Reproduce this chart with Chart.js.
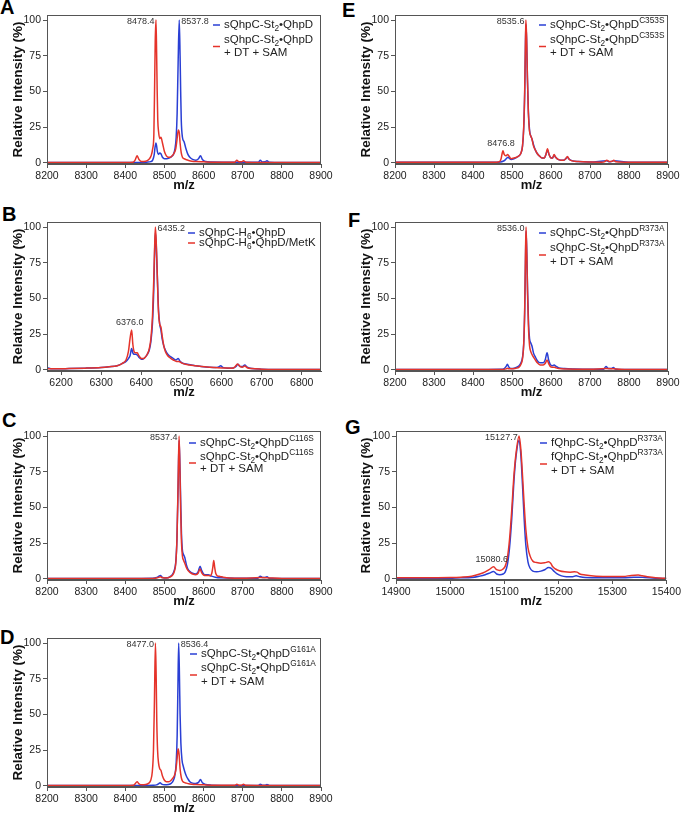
<!DOCTYPE html>
<html lang="en">
<head>
<meta charset="UTF-8">
<title>QhpC-QhpD mass spectra</title>
<style>
  body { margin: 0; background: #fff; font-family: "Liberation Sans", Arial, sans-serif; }
  #fig { position: relative; width: 683px; height: 814px; overflow: hidden; }
  #fig canvas { position: absolute; }
  .tag { position: absolute; font-weight: bold; font-size: 20px; line-height: 20px; color: #000; }
</style>
</head>
<body>
<div id="fig">
  <div class="tag" style="left:0px;top:-3px">A</div>
  <div class="tag" style="left:342px;top:0px">E</div>
  <div class="tag" style="left:2px;top:204px">B</div>
  <div class="tag" style="left:348px;top:210px">F</div>
  <div class="tag" style="left:2px;top:410px">C</div>
  <div class="tag" style="left:345px;top:417px">G</div>
  <div class="tag" style="left:0px;top:627px">D</div>
</div>

<script src="https://cdn.jsdelivr.net/npm/chart.js"></script>
<script>
// spectra: [m/z, relative intensity %]
const blueA = [[8200,0.3],[8400,0.3],[8440,0.4],[8455,0.6],[8465,1],[8470,2],[8474,6],[8476,11],[8478.4,14],[8480,12],[8482,8],[8485,6],[8488,7],[8491,6.5],[8495,4],[8500,3],[8506,3],[8512,3.5],[8518,4.5],[8523,6],[8527,10],[8530,18],[8532.5,35],[8535,70],[8537.8,100],[8540,75],[8541.5,50],[8543,30],[8546,18],[8550,15],[8555,10],[8560,6],[8565,4],[8572,2.5],[8580,2],[8587,3],[8592,5],[8597,2.5],[8605,1],[8620,0.7],[8680,0.5],[8740,0.5],[8745,2],[8750,0.7],[8757,0.8],[8762,1.5],[8768,0.5],[8800,0.3],[8900,0.3]];
const redA = [[8200,0.3],[8300,0.3],[8400,0.4],[8420,0.6],[8425,2],[8430,5],[8435,2.5],[8442,1],[8452,1.2],[8460,2.5],[8466,5],[8470,10],[8473,20],[8475,55],[8476.5,85],[8478.4,100],[8480,78],[8481.5,50],[8483,30],[8485,22],[8488,17],[8491,18],[8495,14],[8500,8],[8505,5],[8510,4],[8515,4],[8520,5],[8525,7],[8529,10],[8532,16],[8535.5,23],[8538,21],[8540,14],[8543,7],[8546,4],[8550,3],[8556,2.3],[8562,1.8],[8570,1.3],[8580,1],[8600,0.8],[8620,0.6],[8660,0.5],[8680,0.6],[8685,2],[8690,0.8],[8697,0.8],[8702,1.5],[8708,0.6],[8750,0.4],[8800,0.3],[8900,0.3]];

const blueB = [[6165,2],[6170,1.2],[6180,0.8],[6220,1],[6260,1.3],[6300,1.8],[6320,2.3],[6340,3],[6352,4.5],[6362,6],[6368,8],[6372,10],[6376,15],[6379,12],[6382,11],[6386,11],[6390,10.5],[6394,9],[6398,8],[6402,7.5],[6406,8],[6410,9],[6415,11],[6420,14],[6424,20],[6428,33],[6431,55],[6433.5,85],[6435.2,96],[6437.5,86],[6440,66],[6443,42],[6446,32],[6449,28],[6452,22],[6456,17],[6460,14],[6466,11],[6472,9.5],[6480,8],[6486,7],[6492,8],[6497,6],[6505,4.5],[6515,4],[6525,3.5],[6535,3],[6550,2.5],[6570,2],[6585,1.8],[6593,2.2],[6598,3],[6603,1.8],[6615,1.3],[6630,1.4],[6636,2.5],[6641,4],[6646,2.5],[6652,2.4],[6658,3.5],[6664,2],[6675,1],[6700,0.6],[6750,0.4],[6850,0.3]];
const redB = [[6165,0.8],[6180,0.8],[6220,1],[6260,1.3],[6300,1.8],[6320,2.3],[6340,3],[6352,4.5],[6362,7],[6368,13],[6372,22],[6376,28],[6379,18],[6382,13],[6386,12],[6390,12],[6394,10],[6398,8.5],[6402,8],[6406,8],[6410,9],[6415,11],[6420,15],[6424,22],[6428,38],[6431,62],[6433.5,88],[6435.2,100],[6437.5,88],[6440,65],[6443,40],[6446,32],[6449,30],[6452,24],[6456,17],[6460,13],[6466,10],[6472,8.5],[6480,7],[6488,6],[6494,6],[6500,5],[6510,4],[6520,3.5],[6535,3],[6550,2.5],[6570,2],[6590,1.6],[6610,1.4],[6625,1.2],[6633,2],[6640,4.2],[6646,2.5],[6652,2],[6658,2.8],[6664,1.6],[6675,1],[6700,0.6],[6750,0.4],[6850,0.3]];

const blueC = [[8200,0.3],[8400,0.3],[8470,0.5],[8480,1],[8486,2],[8490,2.5],[8494,1.3],[8500,0.7],[8508,0.8],[8515,1.8],[8520,3],[8525,6],[8529,12],[8532,28],[8535,65],[8537.4,97],[8539.5,80],[8541.5,55],[8543.5,32],[8546,20],[8549,17],[8552,15],[8556,10],[8560,7],[8566,5],[8572,4],[8580,3.5],[8586,5],[8591,9],[8595,6],[8600,3.5],[8606,3],[8612,3],[8620,2],[8630,1.3],[8645,0.8],[8680,0.5],[8738,0.6],[8745,2],[8751,1],[8756,1],[8762,1.6],[8768,0.5],[8800,0.3],[8900,0.3]];
const redC = [[8200,0.3],[8400,0.3],[8470,0.4],[8482,0.8],[8490,1.5],[8495,0.8],[8505,0.7],[8515,1.5],[8520,2.5],[8525,5],[8529,11],[8532,28],[8535,68],[8537.4,100],[8539.5,78],[8541.5,48],[8543.5,26],[8546,16],[8549,13],[8552,11],[8556,8],[8560,6],[8566,4.5],[8572,3.5],[8580,3],[8586,4],[8591,7],[8595,4.5],[8600,2.8],[8606,2.5],[8612,2.5],[8617,2.2],[8621,4],[8624,9],[8626,13],[8628.5,8],[8631,4],[8635,2.2],[8642,1.8],[8650,1.3],[8665,0.7],[8700,0.5],[8745,1],[8762,0.9],[8800,0.3],[8900,0.3]];

const blueD = [[8200,0.3],[8440,0.3],[8470,0.5],[8480,0.8],[8485,1.5],[8489,2.3],[8493,1.3],[8500,0.8],[8510,1],[8518,2],[8523,4],[8527,8],[8530,16],[8532.5,35],[8534.5,70],[8536.4,100],[8538.5,75],[8540,50],[8542,30],[8545,18],[8548,14],[8552,10],[8556,7],[8560,5],[8565,3],[8572,2],[8580,1.8],[8587,2.5],[8592,4.5],[8597,2.2],[8605,1],[8620,0.6],[8680,0.4],[8740,0.4],[8745,1.3],[8750,0.6],[8757,0.6],[8762,1.1],[8768,0.4],[8800,0.3],[8900,0.3]];
const redD = [[8200,0.3],[8400,0.3],[8420,0.5],[8425,1.5],[8430,3],[8435,1.5],[8442,0.8],[8452,1],[8460,2],[8465,4],[8469,10],[8472,25],[8474.5,60],[8477,100],[8479,75],[8480.5,45],[8482.5,25],[8485,16],[8488,12],[8491,11],[8495,7],[8500,4],[8505,3],[8510,3],[8515,3.5],[8520,5],[8525,7],[8529,11],[8532,18],[8535,26],[8537.5,22],[8540,12],[8543,6],[8546,3.5],[8550,2.5],[8556,2],[8562,1.5],[8570,1.2],[8580,1],[8600,0.8],[8620,0.6],[8660,0.5],[8680,0.5],[8685,1.3],[8690,0.6],[8697,0.6],[8702,1.2],[8708,0.5],[8750,0.4],[8900,0.3]];

const blueE = [[8200,0.5],[8400,0.5],[8460,0.5],[8470,0.7],[8477,1.2],[8482,2],[8487,3.5],[8490,4],[8494,3],[8498,2.5],[8505,3],[8512,4],[8518,5],[8523,7],[8527,12],[8530,24],[8532.5,48],[8534.5,83],[8535.6,97],[8537.5,86],[8539.5,60],[8542,36],[8545,23],[8548,19],[8551,17],[8555,13],[8560,9],[8565,6.5],[8570,5],[8577,3.5],[8583,3.5],[8587,6],[8591,9],[8595,6],[8600,3.5],[8604,3.5],[8608,5.5],[8612,4],[8618,2.5],[8625,2],[8632,2],[8638,3],[8642,4],[8647,2.5],[8655,1.5],[8670,1],[8700,0.7],[8743,1.5],[8750,0.8],[8761,1.5],[8800,0.5],[8900,0.5]];
const redE = [[8200,0.5],[8400,0.5],[8460,0.6],[8468,1],[8472,3],[8475,7],[8476.8,8.5],[8480,6],[8484,5],[8489,6],[8493,4.5],[8498,3],[8505,3.5],[8512,4],[8518,5],[8523,7],[8527,12],[8530,25],[8532.5,50],[8534.5,85],[8535.6,100],[8537.5,88],[8539.5,60],[8542,35],[8545,22],[8548,19],[8551,17],[8555,12],[8560,9],[8565,6.5],[8570,5],[8577,3.5],[8583,3.5],[8587,6],[8591,10],[8595,6],[8600,3.5],[8604,3.5],[8608,6],[8612,4],[8618,2.5],[8625,2],[8632,2],[8638,3],[8642,4.5],[8647,2.5],[8655,1.5],[8670,1],[8700,0.7],[8730,0.6],[8738,1],[8743,2],[8750,1],[8757,1.2],[8761,2],[8766,0.8],[8800,0.5],[8900,0.5]];

const blueF = [[8200,0.3],[8400,0.3],[8470,0.5],[8480,1],[8485,2.5],[8488,4],[8492,2],[8497,1],[8505,1.2],[8512,2],[8518,3],[8523,5],[8527,9],[8530,18],[8532.5,40],[8534.5,75],[8536,97],[8538,82],[8540,55],[8542.5,32],[8545,22],[8548,19],[8551,17],[8555,12],[8560,9],[8565,6.5],[8572,5],[8580,5],[8585,7],[8590,12],[8594,7],[8598,4],[8603,3],[8608,3.5],[8613,2.5],[8620,1.5],[8635,1],[8660,0.7],[8700,0.5],[8735,0.6],[8741,2.5],[8747,1],[8754,1],[8760,1.7],[8766,0.5],[8800,0.3],[8900,0.3]];
const redF = [[8200,0.3],[8400,0.3],[8470,0.4],[8485,0.8],[8488,1.2],[8492,0.8],[8500,0.8],[8510,1.2],[8518,2],[8523,4],[8527,8],[8530,18],[8532.5,42],[8534.5,80],[8536,100],[8538,80],[8540,52],[8542.5,28],[8545,17],[8548,13],[8551,11],[8555,9],[8560,7],[8565,5],[8572,3.5],[8580,3.5],[8585,4.5],[8590,7],[8594,4.5],[8598,2.5],[8603,2],[8608,2],[8613,1.5],[8620,1],[8640,0.7],[8700,0.5],[8741,1],[8760,0.8],[8800,0.3],[8900,0.3]];

const blueG = [[14900,0.3],[14950,0.3],[15000,0.5],[15020,0.8],[15040,1],[15055,2],[15065,3],[15072,4],[15080.6,5.2],[15086,3.5],[15092,3],[15098,3.5],[15102,5],[15106,10],[15110,22],[15114,42],[15118,68],[15122,86],[15127.7,97],[15131,86],[15134,65],[15137,42],[15140,24],[15144,12],[15148,7.5],[15153,5.5],[15160,5],[15168,5.5],[15175,6.5],[15182,8],[15187,7.5],[15192,5.5],[15198,3.5],[15206,2.2],[15215,1.6],[15225,1.5],[15233,2.2],[15240,1.5],[15250,1],[15280,0.8],[15320,0.8],[15340,1.2],[15350,1.3],[15360,1],[15380,0.6],[15400,0.3]];
const redG = [[14900,0.8],[14950,0.8],[15000,1],[15020,1.3],[15040,2],[15055,3.5],[15065,5],[15072,6.5],[15080.6,8.5],[15086,6.5],[15092,6],[15098,7],[15102,9],[15106,15],[15110,28],[15114,48],[15118,72],[15122,88],[15127.7,100],[15131,90],[15134,72],[15137,52],[15140,35],[15144,22],[15148,16],[15153,12.5],[15160,11.5],[15168,11],[15175,11.3],[15182,12],[15186,11],[15190,8.5],[15195,7],[15202,5.8],[15212,5],[15222,4.8],[15230,5],[15235,4.8],[15240,3.5],[15250,2.8],[15270,2],[15300,1.8],[15320,1.8],[15335,2.5],[15348,2.8],[15355,2.2],[15365,1.5],[15380,0.8],[15400,0.5]];

// labelled peaks (m/z)
const peaksA = [8478.4, 8537.8];
const peaksB = [6435.2, 6376.0];
const peaksC = [8537.4];
const peaksD = [8477.0, 8536.4];
const peaksE = [8535.6, 8476.8];
const peaksF = [8536.0];
const peaksG = [15127.7, 15080.6];

// legend names: _x = subscript, ^{..} = superscript, | = new line
const namesA = ['sQhpC-St_2•QhpD', 'sQhpC-St_2•QhpD|+ DT + SAM'];
const namesB = ['sQhpC-H_6•QhpD', 'sQhpC-H_6•QhpD/MetK'];
const namesC = ['sQhpC-St_2•QhpD^{C116S}', 'sQhpC-St_2•QhpD^{C116S}|+ DT + SAM'];
const namesD = ['sQhpC-St_2•QhpD^{G161A}', 'sQhpC-St_2•QhpD^{G161A}|+ DT + SAM'];
const namesE = ['sQhpC-St_2•QhpD^{C353S}', 'sQhpC-St_2•QhpD^{C353S}|+ DT + SAM'];
const namesF = ['sQhpC-St_2•QhpD^{R373A}', 'sQhpC-St_2•QhpD^{R373A}|+ DT + SAM'];
const namesG = ['fQhpC-St_2•QhpD^{R373A}', 'fQhpC-St_2•QhpD^{R373A}|+ DT + SAM'];

const BLUE = '#2a3fd4';
const RED = '#e5332a';
const FONT = '"Liberation Sans", Arial, sans-serif';

// layout of the panels (page px). place: L = label left of peak, R = right, T = on top
const panels = [
  {left:0,   top:0,   w:340, h:200, chartTop:15,  chartBottom:164, yw:47, padRight:19, yPad:10, min:8200,  max:8900,  blue:blueA, red:redA, peaks:peaksA, place:['L','R'], names:namesA, lx:166, ly:[10,25,38]},
  {left:0,   top:200, w:340, h:205, chartTop:222, chartBottom:371, yw:47, padRight:19, yPad:10, min:6165,  max:6848,  blue:blueB, red:redB, peaks:peaksB, place:['R','T'], names:namesB, lx:141, ly:[11,21]},
  {left:0,   top:405, w:340, h:207, chartTop:431, chartBottom:580, yw:47, padRight:19, yPad:10, min:8200,  max:8900,  blue:blueC, red:redC, peaks:peaksC, place:['L'],     names:namesC, lx:142, ly:[12,26,38]},
  {left:0,   top:612, w:340, h:202, chartTop:638, chartBottom:787, yw:47, padRight:19, yPad:10, min:8200,  max:8900,  blue:blueD, red:redD, peaks:peaksD, place:['L','R'], names:namesD, lx:143, ly:[16,30,44]},
  {left:340, top:0,   w:343, h:200, chartTop:15,  chartBottom:164, yw:55, padRight:15, yPad:18, min:8200,  max:8900,  blue:blueE, red:redE, peaks:peaksE, place:['L','T'], names:namesE, lx:144, ly:[10,25,38]},
  {left:340, top:200, w:343, h:205, chartTop:222, chartBottom:371, yw:55, padRight:15, yPad:18, min:8200,  max:8900,  blue:blueF, red:redF, peaks:peaksF, place:['L'],     names:namesF, lx:144, ly:[11,26,40]},
  {left:340, top:405, w:343, h:207, chartTop:431, chartBottom:580, yw:56, padRight:15, yPad:18, min:14900, max:15400, blue:blueG, red:redG, peaks:peaksG, place:['L','T'], names:namesG, lx:144, ly:[12,26,40]}
];

function drawRich(ctx, text, x, y, size) {
  const parts = text.split(/(_\w|\^\{[^}]*\})/).filter(s => s);
  for (const part of parts) {
    let s = part, fs = size, dy = 0;
    if (part[0] === '_') { s = part.slice(1); fs = size * 0.72; dy = size * 0.32; }
    else if (part[0] === '^') { s = part.slice(2, -1); fs = size * 0.72; dy = -size * 0.4; }
    ctx.font = fs + 'px ' + FONT;
    ctx.fillText(s, x, y + dy);
    x += ctx.measureText(s).width;
  }
}

function peakHeight(p, mz) {
  let h = 0;
  for (const [x, y] of p.blue.concat(p.red)) if (Math.abs(x - mz) < 0.01) h = Math.max(h, y);
  return h;
}

function makePanel(p) {
  const canvas = document.createElement('canvas');
  canvas.width = p.w;
  canvas.height = p.h;
  canvas.style.left = p.left + 'px';
  canvas.style.top = p.top + 'px';
  document.getElementById('fig').appendChild(canvas);

  const xTitleH = 13 * 1.2;
  const deco = {
    id: 'deco',
    afterDraw(chart) {
      const ctx = chart.ctx, ca = chart.chartArea;
      const xs = chart.scales.x, ys = chart.scales.y;
      ctx.save();
      // frame
      ctx.strokeStyle = '#555';
      ctx.lineWidth = 1;
      ctx.strokeRect(Math.round(ca.left) + 0.5, Math.round(ca.top) + 0.5,
                     Math.round(ca.right - ca.left) - 1, Math.round(ca.bottom - ca.top) - 1);

      // peak labels
      ctx.fillStyle = '#333';
      ctx.font = '9px ' + FONT;
      p.peaks.forEach((mz, i) => {
        const px = xs.getPixelForValue(mz);
        const py = ys.getPixelForValue(peakHeight(p, mz));
        const txt = mz.toFixed(1);
        if (p.place[i] === 'L') { ctx.textAlign = 'right'; ctx.textBaseline = 'middle'; ctx.fillText(txt, px - 1.5, py + 2); }
        else if (p.place[i] === 'R') { ctx.textAlign = 'left'; ctx.textBaseline = 'middle'; ctx.fillText(txt, px + 2, py + 2); }
        else { ctx.textAlign = 'center'; ctx.textBaseline = 'bottom'; ctx.fillText(txt, px - 2, py - 3); }
      });

      // legend
      ctx.textAlign = 'left';
      ctx.textBaseline = 'middle';
      const lx = ca.left + p.lx;
      let row = 0;
      [[p.names[0], BLUE], [p.names[1], RED]].forEach(([name, color]) => {
        const lines = name.split('|');
        const yLines = lines.map((_, k) => ca.top + p.ly[row + k]);
        const segY = (yLines[0] + yLines[yLines.length - 1]) / 2;
        ctx.strokeStyle = color;
        ctx.lineWidth = 1.5;
        ctx.beginPath();
        ctx.moveTo(lx, segY);
        ctx.lineTo(lx + 7, segY);
        ctx.stroke();
        ctx.fillStyle = '#222';
        lines.forEach((ln, k) => drawRich(ctx, ln, lx + 11, yLines[k], 11.5));
        row += lines.length;
      });
      ctx.restore();
    }
  };

  new Chart(canvas, {
    type: 'line',
    data: {
      datasets: [
        { data: p.red.map(([x, y]) => ({x, y})), borderColor: RED, order: 1 },
        { data: p.blue.map(([x, y]) => ({x, y})), borderColor: BLUE, order: 2 }
      ]
    },
    options: {
      responsive: false,
      animation: false,
      events: [],
      layout: { padding: { top: p.chartTop - p.top, right: p.padRight, left: 0, bottom: 0 } },
      elements: {
        point: { radius: 0 },
        line: { borderWidth: 1.5, cubicInterpolationMode: 'monotone', fill: false }
      },
      plugins: { legend: { display: false }, tooltip: { enabled: false } },
      scales: {
        x: {
          type: 'linear',
          min: p.min,
          max: p.max,
          afterFit: s => { s.height = p.top + p.h - p.chartBottom; },
          ticks: { stepSize: 100, includeBounds: false, autoSkip: false, maxRotation: 0, padding: 2,
                   color: '#222', font: { family: FONT, size: 10.5 }, callback: v => String(v) },
          grid: { drawOnChartArea: false, tickLength: 4, color: '#555' },
          border: { color: '#555' },
          title: { display: true, text: 'm/z', color: '#111',
                   font: { family: FONT, size: 13, weight: 'bold' },
                   padding: { top: 0, bottom: (p.top + p.h - p.chartBottom - 21.5) - xTitleH / 2 } }
        },
        y: {
          min: -0.7,
          max: 103.5,
          afterFit: s => { s.width = p.yw; },
          ticks: { stepSize: 25, includeBounds: false, padding: 2, color: '#222',
                   font: { family: FONT, size: 10.5 }, callback: v => String(v) },
          grid: { drawOnChartArea: false, tickLength: 4, color: '#555' },
          border: { color: '#555' },
          title: { display: true, text: 'Relative Intensity (%)', color: '#111',
                   font: { family: FONT, size: 13.5, weight: 'bold' },
                   padding: { top: p.yPad, bottom: 0 } }
        }
      }
    },
    plugins: [deco]
  });
}

panels.forEach(makePanel);
</script>
</body>
</html>
